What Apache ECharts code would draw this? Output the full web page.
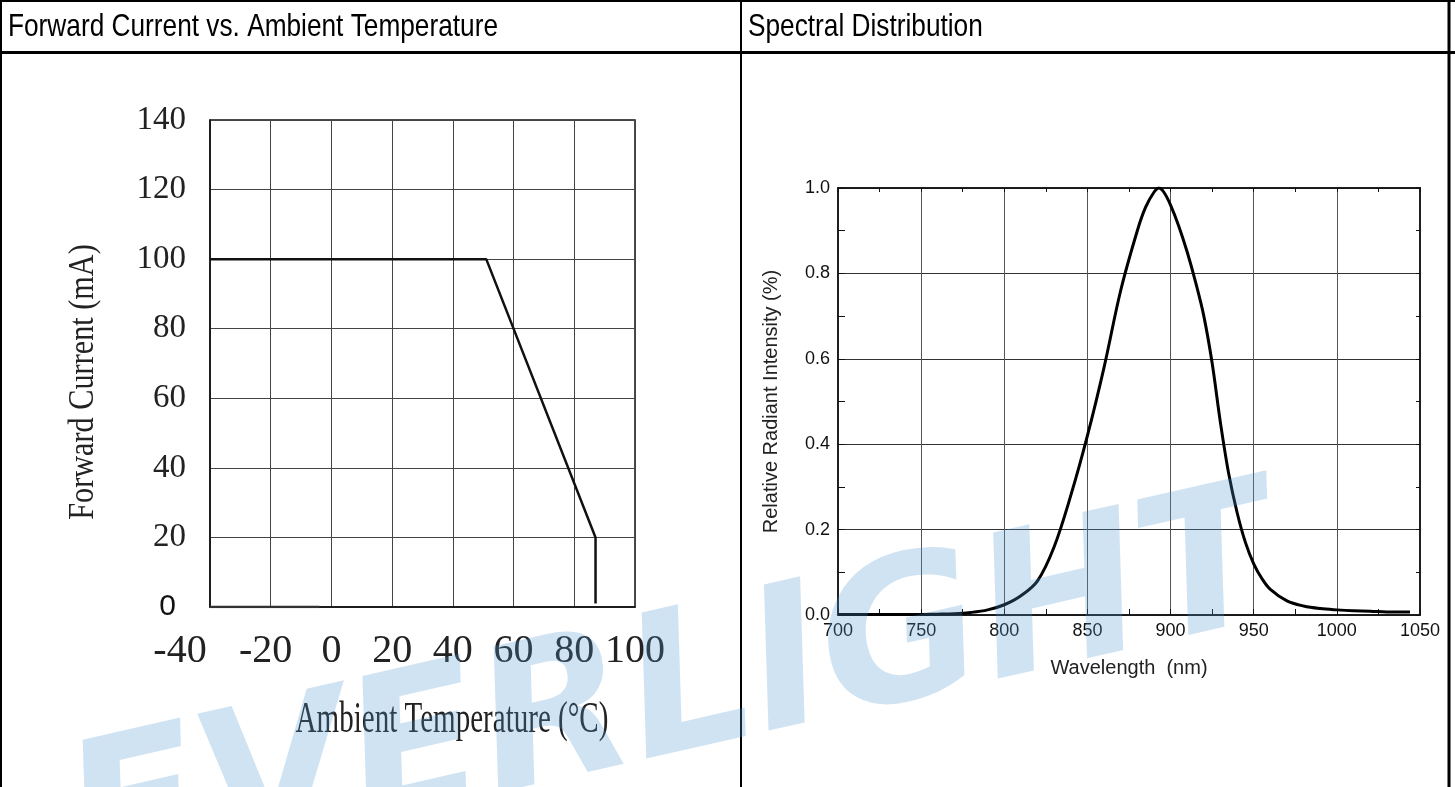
<!DOCTYPE html>
<html>
<head>
<meta charset="utf-8">
<script src="https://cdn.jsdelivr.net/npm/echarts@6/dist/echarts.min.js"></script>
<style>
html,body{margin:0;padding:0;background:#fff;}
#c{width:1455px;height:787px;}
</style>
</head>
<body>
<div id="c"></div>
<script>
// ---------- Data ----------
const deratingTemp = [-40, 51, 87, 87];          // °C
const deratingCurrent = [100, 100, 20, 1];        // mA
const baseTemp = [-40, -4];                       // thick segment along 0 mA
const baseCurrent = [0, 0];
const tempTicks = [-40, -20, 0, 20, 40, 60, 80, 100];
const currentTicks = [0, 20, 40, 60, 80, 100, 120, 140];

const wavelength = [700, 720, 740, 760, 770, 780, 790, 800, 810, 820, 830, 840, 850, 860, 870, 880, 885, 890, 893, 896, 900, 905, 910, 915, 920, 925, 930, 935, 940, 945, 950, 955, 960, 970, 980, 990, 1000, 1010, 1020, 1030, 1044];
const intensity  = [0.001, 0.001, 0.001, 0.002, 0.003, 0.006, 0.012, 0.024, 0.045, 0.08, 0.16, 0.28, 0.42, 0.58, 0.76, 0.90, 0.955, 0.99, 1.0, 0.99, 0.96, 0.91, 0.85, 0.78, 0.70, 0.59, 0.45, 0.33, 0.24, 0.17, 0.12, 0.085, 0.06, 0.033, 0.021, 0.015, 0.012, 0.010, 0.009, 0.007, 0.007];
const wlTicks = [700, 750, 800, 850, 900, 950, 1000, 1050];
const intensityTicks = [0.0, 0.2, 0.4, 0.6, 0.8, 1.0];

const leftTitle = 'Forward Current vs. Ambient Temperature';
const rightTitle = 'Spectral Distribution';

// ---------- Chart ----------
const chart = echarts.init(document.getElementById('c'));
const zip = (a, b) => a.map((v, i) => [v, b[i]]);
const serif = 'Liberation Serif';
const sans = 'Liberation Sans';

const option = {
  animation: false,
  backgroundColor: '#fff',
  grid: [
    {left: 210, top: 120, width: 425, height: 487, show: true, borderColor: '#111', borderWidth: 1.5, backgroundColor: 'transparent'},
    {left: 838, top: 188, width: 582, height: 427, show: true, borderColor: '#111', borderWidth: 1.5, backgroundColor: 'transparent'}
  ],
  xAxis: [
    {
      gridIndex: 0, type: 'value', min: tempTicks[0], max: tempTicks[tempTicks.length - 1], interval: 20,
      axisLine: {show: true, onZero: false, lineStyle: {color: '#111', width: 1.5}},
      axisTick: {show: false},
      splitLine: {show: true, lineStyle: {color: '#444', width: 1}},
      axisLabel: {
        margin: 24, color: '#222', fontFamily: serif, fontSize: 40,
        formatter: v => v === -40 ? '{a|-40}' : (v === -20 ? '{b|-20}' : String(v)),
        rich: {
          a: {fontFamily: serif, fontSize: 40, color: '#222', padding: [0, 60, 0, 0]},
          b: {fontFamily: serif, fontSize: 40, color: '#222', padding: [0, 10, 0, 0]}
        }
      }
    },
    {
      gridIndex: 1, type: 'value', min: wlTicks[0], max: wlTicks[wlTicks.length - 1], interval: 50,
      axisLine: {show: true, onZero: false, lineStyle: {color: '#111', width: 1.5}},
      axisTick: {show: true, inside: true, length: 6, lineStyle: {color: '#111'}},
      minorTick: {show: true, splitNumber: 2, length: 6, lineStyle: {color: '#111'}},
      splitLine: {show: true, lineStyle: {color: '#555', width: 1}},
      axisLabel: {margin: 7, color: '#111', fontFamily: sans, fontSize: 18, formatter: v => String(v)},
      name: 'Wavelength  (nm)', nameLocation: 'middle', nameGap: 43,
      nameTextStyle: {fontFamily: sans, fontSize: 20, color: '#222'}
    },
    {
      gridIndex: 1, type: 'value', position: 'top', min: wlTicks[0], max: wlTicks[wlTicks.length - 1], interval: 50,
      axisLine: {show: true, onZero: false, lineStyle: {color: '#111', width: 1.5}},
      axisTick: {show: true, inside: true, length: 4, lineStyle: {color: '#111'}},
      minorTick: {show: true, splitNumber: 2, length: 4, lineStyle: {color: '#111'}},
      splitLine: {show: false}, axisLabel: {show: false}
    }
  ],
  yAxis: [
    {
      gridIndex: 0, type: 'value', min: currentTicks[0], max: currentTicks[currentTicks.length - 1], interval: 20,
      axisLine: {show: true, onZero: false, lineStyle: {color: '#111', width: 1.5}},
      axisTick: {show: false},
      splitLine: {show: true, lineStyle: {color: '#444', width: 1}},
      axisLabel: {
        margin: 24, color: '#222', fontFamily: serif, fontSize: 33,
        formatter: v => v === 0 ? '{z|0}' : String(v),
        rich: {z: {fontFamily: sans, fontSize: 30, color: '#111', padding: [0, 10, 0, 0]}}
      }
    },
    {
      gridIndex: 1, type: 'value', min: intensityTicks[0], max: intensityTicks[intensityTicks.length - 1], interval: 0.2,
      axisLine: {show: true, onZero: false, lineStyle: {color: '#111', width: 1.5}},
      axisTick: {show: true, inside: true, length: 7, lineStyle: {color: '#111'}},
      minorTick: {show: true, splitNumber: 2, length: 7, lineStyle: {color: '#111'}},
      splitLine: {show: true, lineStyle: {color: '#333', width: 1}},
      axisLabel: {margin: 8, color: '#111', fontFamily: sans, fontSize: 18, formatter: v => v.toFixed(1)},
      name: 'Relative Radiant Intensity (%)', nameLocation: 'middle', nameGap: 57,
      nameTextStyle: {fontFamily: sans, fontSize: 20, color: '#222'}
    },
    {
      gridIndex: 1, type: 'value', position: 'right', min: 0, max: 1, interval: 0.2,
      axisLine: {show: true, onZero: false, lineStyle: {color: '#111', width: 1.5}},
      axisTick: {show: true, inside: true, length: 4, lineStyle: {color: '#111'}},
      minorTick: {show: true, splitNumber: 2, length: 4, lineStyle: {color: '#111'}},
      splitLine: {show: false}, axisLabel: {show: false}
    }
  ],
  series: [
    {
      type: 'line', xAxisIndex: 0, yAxisIndex: 0, data: zip(deratingTemp, deratingCurrent),
      showSymbol: false, lineStyle: {color: '#111', width: 2.5}, z: 5
    },
    {
      type: 'line', xAxisIndex: 0, yAxisIndex: 0, data: zip(baseTemp, baseCurrent),
      showSymbol: false, lineStyle: {color: '#333', width: 2.5}, z: 5
    },
    {
      type: 'line', xAxisIndex: 1, yAxisIndex: 1, data: zip(wavelength, intensity),
      smooth: 0.35, showSymbol: false, lineStyle: {color: '#000', width: 3}, z: 5
    }
  ],
  graphic: [
    // table frame
    {type: 'line', shape: {x1: 1, y1: 0, x2: 1, y2: 787}, style: {stroke: '#000', lineWidth: 2}},
    {type: 'line', shape: {x1: 0, y1: 1, x2: 1455, y2: 1}, style: {stroke: '#000', lineWidth: 2}},
    {type: 'line', shape: {x1: 0, y1: 52.5, x2: 1455, y2: 52.5}, style: {stroke: '#000', lineWidth: 3}},
    {type: 'line', shape: {x1: 741, y1: 0, x2: 741, y2: 787}, style: {stroke: '#000', lineWidth: 2}},
    {type: 'line', shape: {x1: 1449, y1: 0, x2: 1449, y2: 787}, style: {stroke: '#000', lineWidth: 3}},
    // headers
    {type: 'text', x: 8, y: 27, scaleX: 0.82, style: {text: leftTitle, font: '32px ' + sans, fill: '#000', textAlign: 'left', textVerticalAlign: 'middle'}},
    {type: 'text', x: 748, y: 27, scaleX: 0.82, style: {text: rightTitle, font: '32px ' + sans, fill: '#000', textAlign: 'left', textVerticalAlign: 'middle'}},
    // left chart axis titles (condensed serif)
    {type: 'text', x: 84, y: 382, rotation: Math.PI / 2, scaleX: 0.84, style: {text: 'Forward Current (mA)', font: '36px ' + serif, fill: '#222', textAlign: 'center', textVerticalAlign: 'middle'}},
    {type: 'text', x: 452, y: 720, scaleX: 0.66, style: {text: 'Ambient Temperature (°C)', font: '44px ' + serif, fill: '#222', textAlign: 'center', textVerticalAlign: 'middle'}},
    // watermark
    {type: 'text', x: 673, y: 700, rotation: 0.224, z: 100, silent: true,
     style: {text: 'EVERLIGHT', font: 'italic bold 197px "DejaVu Sans"', fill: 'rgba(80,150,210,0.27)', textAlign: 'center', textVerticalAlign: 'middle'}}
  ]
};
chart.setOption(option);
</script>
</body>
</html>
